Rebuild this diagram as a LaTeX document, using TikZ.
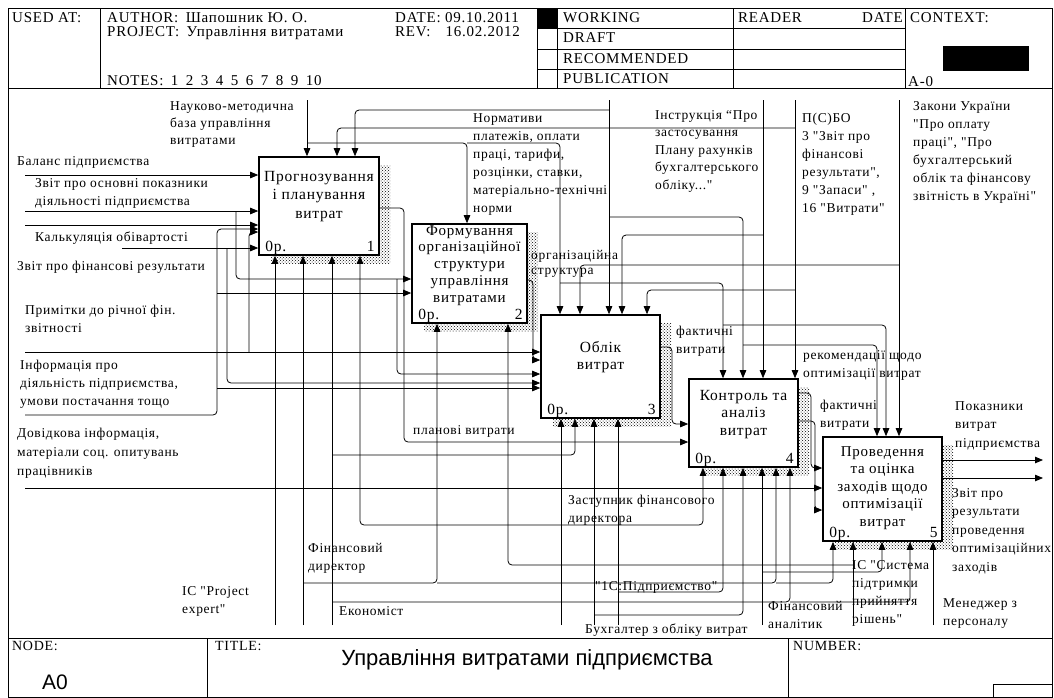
\documentclass[tikz,border=0pt]{standalone}
\usepackage{fontspec}
\setmainfont{Liberation Serif}[Ligatures=TeXOff, LetterSpace=5]
\newfontfamily\sansfont{Liberation Sans}
\usetikzlibrary{arrows.meta, patterns}

\begin{document}
\begin{tikzpicture}[x=1pt,y=-1pt,>={Triangle[length=8pt,width=6.5pt]},act/.style={draw, line width=1.6pt, fill=white, inner sep=0pt},shade/.style={pattern=crosshatch dots, pattern color=black},acttext/.style={anchor=north, align=center, inner sep=0pt, font=\fontsize{15.5}{18.5}\selectfont},corner/.style={inner sep=0pt, font=\fontsize{15.5}{18}\selectfont, yshift=4pt},lbl/.style={anchor=north west, align=left, inner sep=0pt, font=\fontsize{13.5}{18}\selectfont},head/.style={anchor=base west, inner sep=0pt, font=\fontsize{15}{17}\selectfont},foot/.style={anchor=base west, inner sep=0pt, font=\fontsize{14}{16}\selectfont},flow/.style={line width=0.8pt, rounded corners=4pt},arrow/.style={flow, ->}]
\fill[white] (0,0) rectangle (1054,697);
\useasboundingbox (0,0) rectangle (1054,697);
% frame and header
\draw[line width=1pt] (8,8) rectangle (1052,697);
\draw (8,88) -- (1052,88); \draw (8,638) -- (1052,638);
\draw (100,8) -- (100,88); \draw (537,8) -- (537,88); \draw (557,8) -- (557,88); \draw (733,8) -- (733,88); \draw (905,8) -- (905,88);
\draw (537,28) -- (905,28); \draw (537,49) -- (905,49); \draw (537,69) -- (905,69);
\fill (537,8) rectangle (557,28); \fill (943,46) rectangle (1029,71);
\draw (207,638) -- (207,697); \draw (788,638) -- (788,697); \draw (993,684) rectangle (1052,697);
\node[head] (usedat) at (12,22) {USED AT:};
\node[head] (author) at (107,22) {AUTHOR:\enspace Шапошник Ю. О.};
\node[head] (project) at (107,36) {PROJECT:\enspace Управління витратами};
\node[head] (notes) at (107,85) {NOTES:\enspace 1\enspace 2\enspace 3\enspace 4\enspace 5\enspace 6\enspace 7\enspace 8\enspace 9\enspace 10};
\node[head] (date) at (395,22) {DATE: 09.10.2011};
\node[head] (rev) at (395,36) {REV:\enspace\enspace 16.02.2012};
\node[head] (working) at (563,22) {WORKING};
\node[head] (draft) at (563,42) {DRAFT};
\node[head] (recom) at (563,63) {RECOMMENDED};
\node[head] (public) at (563,83) {PUBLICATION};
\node[head] (reader) at (738,22) {READER};
\node[head, anchor=base east] (rdate) at (903,22) {DATE};
\node[head] (context) at (910,22) {CONTEXT:};
\node[head] (ctxid) at (908,86) {A-0};
\node[foot] (nodelbl) at (12,650) {NODE:};
\node[foot] (titlelbl) at (215,650) {TITLE:};
\node[foot] (numberlbl) at (793,650) {NUMBER:};
\node[inner sep=0pt, font=\sansfont\fontsize{22}{26}\selectfont] (titletxt) at (527,660) {Управління витратами підприємства};
\node[inner sep=0pt, font=\sansfont\fontsize{21}{24}\selectfont] (nodeid) at (55,682) {A0};
% shadows
\fill[shade] (271,165) rectangle (390,263); \fill[shade] (424,232) rectangle (538,331); \fill[shade] (553,323) rectangle (671,426);
\fill[shade] (701,387) rectangle (809,475); \fill[shade] (835,445) rectangle (953,549);
% activities
\node[act, minimum width=120pt, minimum height=98pt] (forecast) at (319,206) {};
\node[act, minimum width=115pt, minimum height=99pt] (orgstruct) at (469.5,273.5) {};
\node[act, minimum width=119pt, minimum height=103pt] (account) at (600.5,366.5) {};
\node[act, minimum width=109pt, minimum height=88pt] (control) at (743.5,423) {};
\node[act, minimum width=119pt, minimum height=104pt] (optimize) at (882.5,489) {};
\coordinate (top) at (0,100); \coordinate (left) at (25,0); \coordinate (bottom) at (0,625); \coordinate (calcin) at (122,0);
\coordinate (out1) at (1043,460); \coordinate (out2) at (1043,478);
% controls
\draw[arrow] (307,0 |- top) -- (307,0 |- forecast.north);
\draw[arrow] (307,143) -| (467,0 |- orgstruct.north);
\draw[arrow] (467,143) -| (560,0 |- account.north);
\draw[arrow] (560,283) -| (723,0 |- control.north);
\draw[arrow] (723,325) -| (886,0 |- optimize.north);
\draw[arrow] (795,0 |- top) -- (795,0 |- control.north);
\draw[arrow] (795,128) -| (337,0 |- forecast.north);
\draw[arrow] (795,290) -| (647,0 |- account.north);
\draw[arrow] (609,0 |- top) -- (609,0 |- account.north);
\draw[arrow] (609,110) -| (355,0 |- forecast.north);
\draw[arrow] (609,217) -| (743,0 |- control.north);
\draw[arrow] (743,345) -| (877,0 |- optimize.north);
\draw[arrow] (763,0 |- top) -- (763,0 |- control.north);
\draw[arrow] (763,235) -| (622,0 |- account.north);
\draw[arrow] (899,0 |- top) -- (899,0 |- optimize.north);
\draw[arrow] (899,265) -| (580,0 |- account.north);
% inputs
\draw[arrow] (left |- 0,175) -- (forecast.west |- 0,175);
\draw[arrow] (left |- 0,211) -- (forecast.west |- 0,211);
\draw[arrow] (236,211) |- (orgstruct.west |- 0,279);
\draw[arrow] (397,279) |- (account.west |- 0,374);
\draw[arrow] (left |- 0,225) -- (forecast.west |- 0,225);
\draw[arrow] (calcin |- 0,248) -- (forecast.west |- 0,248);
\draw[arrow] (227,248) |- (account.west |- 0,383);
\draw[arrow] (left |- 0,352) -- (account.west |- 0,352);
\draw[arrow] (249,352) |- (forecast.west |- 0,232);
\draw[arrow] (left |- 0,415) -| (217,229) -- (forecast.west |- 0,229);
\draw[arrow] (217,293) -- (orgstruct.west |- 0,293);
\draw[arrow] (217,388) -- (account.west |- 0,388);
\draw[arrow] (left |- 0,488) -- (optimize.west |- 0,488);
% outputs
\draw[arrow] (forecast.east |- 0,208) -| (404,442) -- (control.west |- 0,442);
\draw[arrow] (orgstruct.east |- 0,280) -| (533,360) -- (account.west |- 0,360);
\draw[arrow] (account.east |- 0,347) -| (672,424) -- (control.west |- 0,424);
\draw[arrow] (control.east |- 0,393) -| (811,468) -- (optimize.west |- 0,468);
\draw[arrow] (control.east |- 0,421) -| (815,510) -- (optimize.west |- 0,510);
\draw[arrow] (optimize.east |- out1) -- (out1);
\draw[arrow] (optimize.east |- out2) -- (out2);
% mechanisms
\draw[arrow] (275,0 |- bottom) -- (275,0 |- forecast.south);
\draw[arrow] (303,0 |- bottom) -- (303,0 |- forecast.south);
\draw[arrow] (303,583) -| (437,0 |- orgstruct.south);
\draw[arrow] (437,583) -| (776,0 |- control.south);
\draw[arrow] (776,583) -| (833,0 |- optimize.south);
\draw[arrow] (332,0 |- bottom) -- (332,0 |- forecast.south);
\draw[arrow] (332,455) -| (575,0 |- account.south);
\draw[arrow] (332,602) -| (790,0 |- control.south);
\draw[arrow] (790,602) -| (910,0 |- optimize.south);
\draw[arrow] (853,0 |- bottom) -- (853,0 |- optimize.south);
\draw[arrow] (853,565) -| (508,0 |- orgstruct.south);
\draw[arrow] (561,0 |- bottom) -- (561,0 |- account.south);
\draw[arrow] (561,525) -| (360,0 |- forecast.south);
\draw[arrow] (561,525) -| (703,0 |- control.south);
\draw[arrow] (594,0 |- bottom) -- (594,0 |- account.south);
\draw[arrow] (594,615) -| (743,0 |- control.south);
\draw[arrow] (618,0 |- bottom) -- (618,0 |- account.south);
\draw[arrow] (618,592) -| (723,0 |- control.south);
\draw[arrow] (762,0 |- bottom) -- (762,0 |- control.south);
\draw[arrow] (762,572) -| (882,0 |- optimize.south);
\draw[arrow] (933,0 |- bottom) -- (933,0 |- optimize.south);
% activity texts
\node[acttext] (forecasttxt) at (319,171) {Прогнозування\\і планування\\витрат};
\node[acttext, font=\fontsize{15}{16.8}\selectfont] (orgtxt) at (469.5,225) {Формування\\організаційної\\структури\\управління\\витратами};
\node[acttext, font=\fontsize{15.5}{17}\selectfont] (accounttxt) at (600.5,341) {Облік\\витрат};
\node[acttext, font=\fontsize{15.5}{17.5}\selectfont] (controltxt) at (743.5,390) {Контроль та\\аналіз\\витрат};
\node[acttext, font=\fontsize{15}{17.5}\selectfont] (optimtxt) at (882.5,446) {Проведення\\та оцінка\\заходів щодо\\оптимізації\\витрат};
\node[corner, anchor=base west, xshift=7pt] (forecastop) at (forecast.south west) {0р.};
\node[corner, anchor=base east, xshift=-5pt] (forecastnum) at (forecast.south east) {1};
\node[corner, anchor=base west, xshift=7pt] (orgstructop) at (orgstruct.south west) {0р.};
\node[corner, anchor=base east, xshift=-5pt] (orgstructnum) at (orgstruct.south east) {2};
\node[corner, anchor=base west, xshift=7pt] (accountop) at (account.south west) {0р.};
\node[corner, anchor=base east, xshift=-5pt] (accountnum) at (account.south east) {3};
\node[corner, anchor=base west, xshift=7pt] (controlop) at (control.south west) {0р.};
\node[corner, anchor=base east, xshift=-5pt] (controlnum) at (control.south east) {4};
\node[corner, anchor=base west, xshift=7pt] (optimizeop) at (optimize.south west) {0р.};
\node[corner, anchor=base east, xshift=-5pt] (optimizenum) at (optimize.south east) {5};
% arrow labels
\node[lbl, font=\fontsize{13.5}{17}\selectfont] (lmethod) at (170,101) {Науково-методична\\база управління\\витратами};
\node[lbl] (lbalance) at (17,156) {Баланс підприємства};
\node[lbl] (lmainrep) at (35,178) {Звіт про основні показники\\діяльності підприємства};
\node[lbl] (lcalc) at (35,232) {Калькуляція обівартості};
\node[lbl] (lfinrep) at (17,261) {Звіт про фінансові результати};
\node[lbl] (lnotes) at (25,305) {Примітки до річної фін.\\звітності};
\node[lbl] (linfo) at (20,360) {Інформація про\\діяльність підприємства,\\умови постачання тощо};
\node[lbl, font=\fontsize{13.5}{19}\selectfont] (lref) at (17,428) {Довідкова інформація,\\матеріали соц. опитувань\\працівників};
\node[lbl] (lnorms) at (473,113) {Нормативи\\платежів, оплати\\праці, тарифи,\\розцінки, ставки,\\матеріально-технічні\\норми};
\node[lbl, font=\fontsize{13.5}{17.5}\selectfont] (linstr) at (655,110) {Інструкція “Про\\застосування\\Плану рахунків\\бухгалтерського\\обліку..."};
\node[lbl] (lpsbo) at (802,113) {П(С)БО\\3 "Звіт про\\фінансові\\результати",\\9 "Запаси" ,\\16 "Витрати"};
\node[lbl] (llaws) at (913,101) {Закони України\\"Про оплату\\праці", "Про\\бухгалтерський\\облік та фінансову\\звітність в Україні"};
\node[lbl, font=\fontsize{13.5}{15}\selectfont] (lorg) at (531,250) {організаційна\\структура};
\node[lbl] (lfact) at (676,326) {фактичні\\витрати};
\node[lbl] (lrecom) at (803,350) {рекомендації щодо\\оптимізації витрат};
\node[lbl] (lfact2) at (820,400) {фактичні\\витрати};
\node[lbl, font=\fontsize{13.5}{18.5}\selectfont] (lindic) at (955,401) {Показники\\витрат\\підприємства};
\node[lbl, font=\fontsize{13.5}{18.5}\selectfont] (lresult) at (952,488) {Звіт про\\результати\\проведення\\оптимізаційних\\заходів};
\node[lbl] (lplan) at (413,425) {планові витрати};
\node[lbl] (ldeputy) at (568,495) {Заступник фінансового\\директора};
\node[lbl] (l1c) at (595,581) {"1С:Підприємство"};
\node[lbl] (lfindir) at (308,543) {Фінансовий\\директор};
\node[lbl] (lproject) at (182,586) {ІС "Project\\expert"};
\node[lbl] (lecon) at (339,606) {Економіст};
\node[lbl] (lanalyst) at (768,601) {Фінансовий\\аналітик};
\node[lbl] (lbook) at (585,624) {Бухгалтер з обліку витрат};
\node[lbl] (lsystem) at (852,560) {ІС "Система\\підтримки\\прийняття\\рішень"};
\node[lbl] (lhr) at (943,598) {Менеджер з\\персоналу};
\end{tikzpicture}
\end{document}
